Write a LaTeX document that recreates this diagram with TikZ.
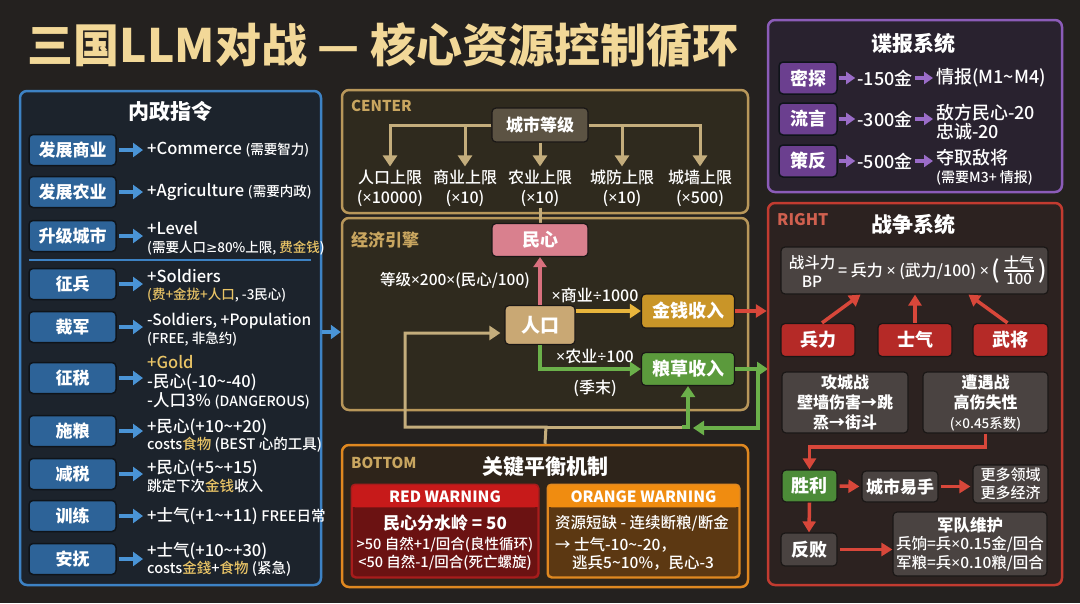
\documentclass[tikz,border=0pt]{standalone}
\usepackage{fontspec}
\setmainfont{Noto Sans CJK SC}
\newfontfamily\notolat{Noto Sans}
\newfontfamily\djv{DejaVu Sans}
\IfFontExistsTF{Noto Sans CJK SC Medium}{\newfontfamily\medf{Noto Sans CJK SC Medium}}{\newcommand\medf{}}
\usetikzlibrary{arrows.meta}
\newcommand\myfs[1]{\fontsize{#1}{#1}\selectfont}
\newcommand\tms{{\notolat ×}}
\newcommand\dvd{{\notolat ÷}}
\newcommand\gte{{\djv ≥}}
\definecolor{bg}{HTML}{24211F}
\definecolor{titlecol}{HTML}{F2D898}
\definecolor{lfill}{HTML}{1C232C}
\definecolor{lborder}{HTML}{3D82C4}
\definecolor{btnblue}{HTML}{2D6398}
\definecolor{arrblue}{HTML}{4A94D6}
\definecolor{btnedge}{HTML}{0F141A}
\definecolor{goldtxt}{HTML}{E9C466}
\definecolor{cfill}{HTML}{2F2A1E}
\definecolor{cborder}{HTML}{B8975A}
\definecolor{clabel}{HTML}{C9A660}
\definecolor{cityfill}{HTML}{5C5343}
\definecolor{tanline}{HTML}{C4AD7C}
\definecolor{pinkfill}{HTML}{D9808E}
\definecolor{pinkarr}{HTML}{D9707E}
\definecolor{tanfill}{HTML}{C9A874}
\definecolor{goldfill}{HTML}{C99528}
\definecolor{yelarr}{HTML}{E8B53C}
\definecolor{grnfill}{HTML}{5B9A3C}
\definecolor{grnarr}{HTML}{6BB04A}
\definecolor{bborder}{HTML}{E08820}
\definecolor{bfill}{HTML}{2E241A}
\definecolor{redhead}{HTML}{C71A1A}
\definecolor{redbody}{HTML}{6B1212}
\definecolor{redborder}{HTML}{A81C1C}
\definecolor{orhead}{HTML}{F08C10}
\definecolor{orbody}{HTML}{5C3812}
\definecolor{pborder}{HTML}{8B5CB8}
\definecolor{pfill}{HTML}{29222F}
\definecolor{pbtn}{HTML}{6B3F8F}
\definecolor{parr}{HTML}{9A6CC8}
\definecolor{rborder}{HTML}{C23B30}
\definecolor{rfill}{HTML}{2C2220}
\definecolor{rlabel}{HTML}{D0604F}
\definecolor{graybox}{HTML}{4A4341}
\definecolor{boxedge}{HTML}{1A1716}
\definecolor{redbox}{HTML}{B52A27}
\definecolor{redarr}{HTML}{D8473A}
\definecolor{winfill}{HTML}{4C8B38}
\tikzset{
  panel/.style={draw, line width=2.5pt, rounded corners=7pt, inner sep=0pt},
  txt/.style={inner sep=0pt, text=white},
  ptitle/.style={inner sep=0pt, text=white, font=\bfseries\myfs{21}},
  lbtn/.style={draw=btnedge, fill=btnblue, line width=1.5pt, rounded corners=4pt, minimum width=87pt, minimum height=31pt, inner sep=0pt, text=white, font=\bfseries\myfs{17}},
  pbutton/.style={draw=btnedge, fill=pbtn, line width=1.5pt, rounded corners=4pt, minimum width=58pt, minimum height=32pt, inner sep=0pt, text=white, font=\bfseries\myfs{18}},
  gbox/.style={draw=boxedge, fill=graybox, line width=1.2pt, rounded corners=4pt, inner sep=0pt, text=white, align=center},
  barrow/.style={draw=arrblue, line width=4pt, -{Triangle[length=10pt,width=14pt]}},
  parrow/.style={draw=parr, line width=3.5pt, -{Triangle[length=9pt,width=12pt]}},
  tanarrow/.style={draw=tanline, line width=3pt, -{Triangle[length=11pt,width=14pt]}},
  tanplain/.style={draw=tanline, line width=3pt},
  pinkarrow/.style={draw=pinkarr, line width=3.5pt, -{Triangle[length=10pt,width=13pt]}},
  yelarrow/.style={draw=yelarr, line width=3.5pt, -{Triangle[length=11pt,width=14pt]}},
  grnarrow/.style={draw=grnarr, line width=3.5pt, -{Triangle[length=11pt,width=14pt]}},
  redarrow/.style={draw=redarr, line width=3.5pt, -{Triangle[length=11pt,width=13pt]}},
}
\begin{document}
\begin{tikzpicture}[x=1pt,y=-1pt]
\fill[bg] (0,0) rectangle (1080,603);
\useasboundingbox (0,0) rectangle (1080,603);

% ---------- title
\node[inner sep=0pt, text=titlecol, font=\bfseries\myfs{46}] (title) at (383,45) {三国LLM对战 — 核心资源控制循环};

% ---------- left panel
\node[panel, draw=lborder, fill=lfill, minimum width=301pt, minimum height=494pt] (lpanel) at (170.5,338) {};
\node[ptitle] (ltitle) at (170,111) {内政指令};
\draw[lborder, line width=1.5pt] (29,260) -- (311,260);

\node[lbtn] (b1) at (72.5,150) {发展商业};
\node[lbtn] (b2) at (72.5,192) {发展农业};
\node[lbtn] (b3) at (72.5,236) {升级城市};
\node[lbtn] (b4) at (72.5,284) {征兵};
\node[lbtn] (b5) at (72.5,327) {裁军};
\node[lbtn] (b6) at (72.5,378) {征税};
\node[lbtn] (b7) at (72.5,431) {施粮};
\node[lbtn] (b8) at (72.5,474) {减税};
\node[lbtn] (b9) at (72.5,516) {训练};
\node[lbtn] (b10) at (72.5,559) {安抚};

\tikzset{desc/.style={inner sep=0pt, text=white, anchor=west, font=\medf\myfs{16.5}},
         sub/.style={inner sep=0pt, text=white, anchor=west, font=\medf\myfs{13.5}}}
\node[desc] (t1) at (147,150) {+Commerce {\myfs{13.5}(需要智力)}};
\node[desc] (t2) at (147,192) {+Agriculture {\myfs{13.5}(需要内政)}};
\node[desc] (t3) at (147,228) {+Level};
\node[sub] (t3b) at (147,248) {(需要人口\gte{}80\%上限, \textcolor{goldtxt}{费金钱})};
\node[desc] (t4) at (147,276) {+Soldiers};
\node[sub] (t4b) at (147,295) {\textcolor{goldtxt}{(费+金拢+人口}, -3民心)};
\node[desc, font=\medf\myfs{15.5}] (t5) at (147,321) {-Soldiers, +Population};
\node[sub] (t5b) at (147,339) {(FREE, 非急约)};
\node[desc, text=goldtxt] (t6) at (147,362) {+Gold};
\node[desc] (t6b) at (147,382) {-民心(-10\textasciitilde-40)};
\node[desc] (t6c) at (147,401) {-人口3\% {\myfs{14}(DANGEROUS)}};
\node[desc] (t7) at (147,427) {+民心(+10\textasciitilde+20)};
\node[sub, font=\medf\myfs{14.5}] (t7b) at (147,445) {costs\textcolor{goldtxt}{食物} (BEST 心的工具)};
\node[desc] (t8) at (147,468) {+民心(+5\textasciitilde+15)};
\node[sub, font=\medf\myfs{14.5}] (t8b) at (147,486) {跳定下次\textcolor{goldtxt}{金钱}收入};
\node[desc] (t9) at (147,516) {+士气(+1\textasciitilde+11) {\myfs{14.5}FREE日常}};
\node[desc] (t10) at (147,551) {+士气(+10\textasciitilde+30)};
\node[sub, font=\medf\myfs{14.5}] (t10b) at (147,569) {costs\textcolor{goldtxt}{金錢}+\textcolor{goldtxt}{食物} (紧急)};

\foreach \i in {1,...,10} {
  \draw[barrow, shorten <=2pt, shorten >=4pt] (b\i.east) -- (b\i.east -| t1.west);
}

% ---------- center top panel
\node[panel, draw=cborder, fill=cfill, minimum width=406pt, minimum height=123pt] (cpanel) at (545,151.5) {};
\node[inner sep=0pt, anchor=west, text=clabel, font=\bfseries\myfs{15}] (clab) at (351,106) {CENTER};
\node[draw=boxedge, fill=cityfill, line width=1.2pt, rounded corners=4pt, minimum width=96pt, minimum height=34pt, inner sep=0pt, text=white, font=\bfseries\myfs{17}] (city) at (540,125) {城市等级};
\tikzset{caplab/.style={inner sep=1pt, text=white, align=center, font=\medf\fontsize{16}{20}\selectfont}}
\node[caplab] (cap1) at (390,188) {人口上限\\(\tms{}10000)};
\node[caplab] (cap2) at (465,188) {商业上限\\(\tms{}10)};
\node[caplab] (cap3) at (540,188) {农业上限\\(\tms{}10)};
\node[caplab] (cap4) at (622,188) {城防上限\\(\tms{}10)};
\node[caplab] (cap5) at (700,188) {城墙上限\\(\tms{}500)};
\draw[tanarrow, shorten >=2pt] (city.west) -| (cap1.north);
\draw[tanarrow, shorten >=2pt] (city.west) -| (cap2.north);
\draw[tanarrow, shorten >=2pt] (city.south) -- (cap3.north);
\draw[tanarrow, shorten >=2pt] (city.east) -| (cap4.north);
\draw[tanarrow, shorten >=2pt] (city.east) -| (cap5.north);

% ---------- economy panel
\node[panel, draw=cborder, fill=cfill, minimum width=406pt, minimum height=192pt] (econ) at (545,314) {};
\node[inner sep=0pt, anchor=west, text=clabel, font=\bfseries\myfs{17}] (elab) at (351,240) {经济引擎};
\draw[tanplain] (cap3.south) -- (540,223);
\node[draw=boxedge, fill=pinkfill, line width=1.2pt, rounded corners=4pt, minimum width=96pt, minimum height=33pt, inner sep=0pt, text=white, font=\bfseries\myfs{18}] (minxin) at (540,240) {民心};
\node[draw=boxedge, fill=tanfill, line width=1.2pt, rounded corners=4pt, minimum width=70pt, minimum height=39pt, inner sep=0pt, text=white, font=\bfseries\myfs{19}] (renkou) at (540,325) {人口};
\node[draw=boxedge, fill=goldfill, line width=1.2pt, rounded corners=4pt, minimum width=93pt, minimum height=34pt, inner sep=0pt, text=white, font=\bfseries\myfs{18}] (jinqian) at (688,311) {金钱收入};
\node[draw=boxedge, fill=grnfill, line width=1.2pt, rounded corners=4pt, minimum width=93pt, minimum height=33pt, inner sep=0pt, text=white, font=\bfseries\myfs{18}] (liangcao) at (688,369) {粮草收入};
\draw[pinkarrow] (renkou.north) -- (minxin.south);
\node[txt, font=\medf\myfs{15.5}] (lbl1) at (455,280) {等级\tms{}200\tms{}(民心/100)};
\draw[yelarrow] (renkou.east |- jinqian.west) -- (jinqian.west);
\node[txt, font=\medf\myfs{16}] (lbl2) at (595,295) {\tms{}商业\dvd{}1000};
\draw[grnarrow] (renkou.south) |- (liangcao.west);
\node[txt, font=\medf\myfs{16}] (lbl3) at (595,356) {\tms{}农业\dvd{}100};
\node[txt, font=\medf\myfs{16}] (lbl4) at (595,388) {(季末)};

% ---------- bottom panel
\node[panel, draw=bborder, fill=bfill, minimum width=406pt, minimum height=142pt] (bpanel) at (545,516) {};
\node[inner sep=0pt, anchor=west, text=clabel, font=\bfseries\myfs{15}] (blab) at (351,463) {BOTTOM};
\node[ptitle] (btitle) at (545,467) {关键平衡机制};

% tan loop and green returns
\coordinate (tanlow) at (546,427);
\coordinate (tanleft) at (405,427);
\coordinate (tanright) at (682,427);
\coordinate (gturn) at (758,369);
\coordinate (gback) at (758,428);
\draw[tanarrow, shorten >=4pt] (bpanel.north) -- (tanlow) -- (tanleft) |- ([yshift=-8pt]renkou.west);
\draw[tanplain] (tanlow) -- (tanright);
\draw[grnarrow] (tanright) -| (liangcao.south);
\draw[grnarrow] (liangcao.east) -- (gturn) -- (768,369);
\draw[grnarrow, shorten >=5pt] (gturn) -- (gback) -- (liangcao.south |- gback);

% red warning
\node[draw=redborder, fill=redbody, line width=1.5pt, rounded corners=4pt, minimum width=186pt, minimum height=92pt, inner sep=0pt] (redwarn) at (445,531) {};
\fill[redhead, rounded corners=4pt] (redwarn.north west) rectangle ([yshift=-23pt]redwarn.north east);
\fill[redhead] ([yshift=-12pt]redwarn.north west) rectangle ([yshift=-23pt]redwarn.north east);
\draw[redborder, line width=1.5pt, rounded corners=4pt] (redwarn.north west) rectangle (redwarn.south east);
\node[txt, font=\bfseries\myfs{15.5}] (rwh) at ([yshift=-12pt]redwarn.north) {RED WARNING};
\node[txt, font=\bfseries\myfs{17}] (rw1) at (445,523) {民心分水岭 = 50};
\node[txt, font=\medf\myfs{14.5}] (rw2) at (445,545) {>50 自然+1/回合(良性循环)};
\node[txt, font=\medf\myfs{14.5}] (rw3) at (445,563) {<50 自然-1/回合(死亡螺旋)};

% orange warning
\node[draw=bborder, fill=orbody, line width=1.5pt, rounded corners=4pt, minimum width=191pt, minimum height=92pt, inner sep=0pt] (orwarn) at (643.5,531) {};
\fill[orhead, rounded corners=4pt] (orwarn.north west) rectangle ([yshift=-23pt]orwarn.north east);
\fill[orhead] ([yshift=-12pt]orwarn.north west) rectangle ([yshift=-23pt]orwarn.north east);
\draw[bborder, line width=1.5pt, rounded corners=4pt] (orwarn.north west) rectangle (orwarn.south east);
\node[txt, font=\bfseries\myfs{15.5}] (owh) at ([yshift=-12pt]orwarn.north) {ORANGE WARNING};
\node[txt, anchor=west, font=\medf\myfs{15.5}] (ow1) at (555,523) {资源短缺 - 连续断粮/断金};
\node[txt, anchor=west, font=\medf\myfs{15.5}] (ow2) at (555,545) {→ 士气-10\textasciitilde-20，};
\node[txt, anchor=west, font=\medf\myfs{15.5}] (ow3) at (572,563) {逃兵5\textasciitilde10\%，民心-3};

% blue arrow from left panel into the centre
\draw[barrow] ([yshift=-18pt]econ.west -| lpanel.east) -- ([yshift=-18pt]econ.west);

% ---------- purple panel
\node[panel, draw=pborder, fill=pfill, minimum width=294pt, minimum height=172pt] (ppanel) at (915,106) {};
\node[ptitle] (ptitle1) at (913,43) {谍报系统};
\node[pbutton] (pb1) at (808,78) {密探};
\node[pbutton] (pb2) at (808,119) {流言};
\node[pbutton] (pb3) at (808,161) {策反};
\node[txt, font=\medf\myfs{18}] (pc1) at (885,78) {-150金};
\node[txt, font=\medf\myfs{18}] (pc2) at (885,119) {-300金};
\node[txt, font=\medf\myfs{18}] (pc3) at (885,161) {-500金};
\node[txt, anchor=west, font=\medf\myfs{18}] (pr1) at (936,78) {情报(M1\textasciitilde M4)};
\node[txt, anchor=west, font=\medf\myfs{18}] (pr2) at (936,113) {敌方民心-20};
\node[txt, anchor=west, font=\medf\myfs{18}] (pr2b) at (936,132) {忠诚-20};
\node[txt, anchor=west, font=\medf\myfs{18}] (pr3) at (936,158) {夺取敌将};
\node[txt, anchor=west, font=\medf\myfs{14}] (pr3b) at (936,178) {(需要M3+ 情报)};
\foreach \i in {1,2,3} {
  \draw[parrow, shorten <=1pt, shorten >=2pt] (pb\i.east) -- (pc\i.west);
  \draw[parrow, shorten <=2pt, shorten >=3pt] (pc\i.east) -- (pc\i.east -| pr1.west);
}

% ---------- right panel (war)
\node[panel, draw=rborder, fill=rfill, minimum width=294pt, minimum height=382pt] (rpanel) at (915,394) {};
\node[inner sep=0pt, anchor=west, text=rlabel, font=\bfseries\myfs{16}] (rlab) at (777,220) {RIGHT};
\node[ptitle] (rtitle) at (913,224) {战争系统};
\draw[redarrow] (jinqian.east) -- (jinqian.east -| rpanel.west);

\node[gbox, minimum width=267pt, minimum height=47pt] (bpbox) at (914.5,270.5) {};
\node[txt, align=center, font=\medf\fontsize{15.5}{19}\selectfont] (bplab) at (812,271) {战斗力\\BP};
\node[txt, anchor=west, font=\medf\myfs{16}] (bpform) at (838,271) {= 兵力 \tms{} (武力/100) \tms{}};
\node[txt, anchor=west, font=\medf\myfs{24}] (lpar) at ([xshift=2pt]bpform.east) {(};
\node[txt, anchor=south, font=\medf\myfs{15}] (fnum) at ([xshift=19pt,yshift=1.5pt]lpar.east) {士气};
\node[txt, anchor=north, font=\medf\myfs{15}] (fden) at ([xshift=19pt,yshift=-2pt]lpar.east) {100};
\draw[white, line width=1.2pt] ([xshift=4pt]lpar.east) -- ([xshift=34pt]lpar.east);
\node[txt, anchor=west, font=\medf\myfs{24}] (rpar) at ([xshift=38pt]lpar.east) {)};

\tikzset{rbx/.style={draw=boxedge, fill=redbox, line width=1.2pt, rounded corners=4pt, minimum height=33pt, inner sep=0pt, text=white, font=\bfseries\myfs{18}}}
\node[rbx, minimum width=74pt] (rb1) at (818,340) {兵力};
\node[rbx, minimum width=74pt] (rb2) at (915,340) {士气};
\node[rbx, minimum width=75pt] (rb3) at (1010.5,340) {武将};
\draw[redarrow] ([xshift=4pt]rb1.north) -- ([xshift=-54pt]bpbox.south);
\draw[redarrow] (rb2.north) -- (rb2.north |- bpbox.south);
\draw[redarrow] ([xshift=-3pt]rb3.north) -- ([xshift=54pt]bpbox.south);

\node[gbox, minimum width=126pt, minimum height=61pt, font=\bfseries\fontsize{16}{20}\selectfont] (siege) at (845,402.5) {攻城战\\壁墙伤害→跳\\烝→街斗};
\node[gbox, minimum width=125pt, minimum height=61pt, font=\bfseries\fontsize{16}{20}\selectfont] (meet) at (985.5,402.5) {遭遇战\\高伤失性\\{\mdseries\medf\myfs{13.5}(\tms{}0.45系数)}};

\node[draw=boxedge, fill=winfill, line width=1.2pt, rounded corners=4pt, minimum width=55pt, minimum height=32pt, inner sep=0pt, text=white, font=\bfseries\myfs{18}] (win) at (809.5,486) {胜利};
\node[gbox, minimum width=76pt, minimum height=31pt, font=\bfseries\myfs{17}] (city2) at (900,486.5) {城市易手};
\node[gbox, minimum width=75pt, minimum height=38pt, font=\medf\fontsize{15}{18}\selectfont] (more) at (1010.5,484) {更多领域\\更多经济};
\node[gbox, minimum width=56pt, minimum height=33pt, font=\bfseries\myfs{18}] (lose) at (809,549.5) {反败};
\node[gbox, minimum width=154pt, minimum height=64pt, font=\medf\fontsize{15.5}{18.5}\selectfont] (upkeep) at (970,544) {{\bfseries\myfs{16.5}军队维护}\\兵饷=兵\tms{}0.15金/回合\\军粮=兵\tms{}0.10粮/回合};

\coordinate (wincorner) at (809.5,447);
\draw[redarrow] (meet.south) |- (wincorner) -- (win.north);
\draw[redarrow, shorten <=2pt, shorten >=2pt] (win.east) -- (city2.west);
\draw[redarrow, shorten <=2pt, shorten >=2pt] (city2.east) -- (city2.east -| more.west);
\draw[redarrow] (win.south) -- (lose.north);
\draw[redarrow, shorten <=2pt] (lose.east) -- (lose.east -| upkeep.west);
\end{tikzpicture}
\end{document}
